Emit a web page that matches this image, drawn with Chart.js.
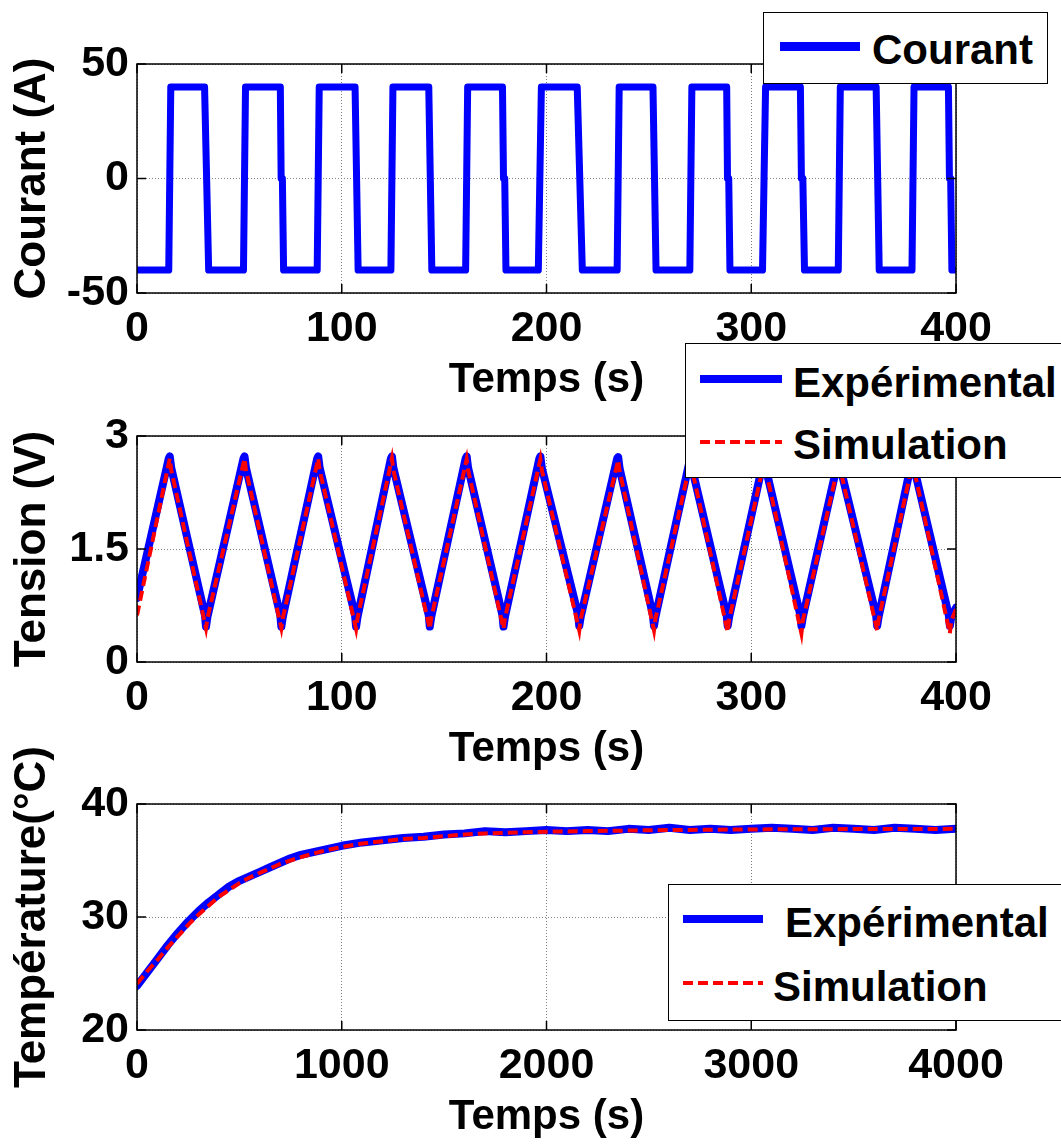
<!DOCTYPE html>
<html>
<head>
<meta charset="utf-8">
<script src="https://cdn.jsdelivr.net/npm/chart.js@4.4.1/dist/chart.umd.min.js"></script>
<style>
body { margin: 0; background: #fff; }
#wrap { position: relative; width: 1061px; height: 1144px; overflow: hidden; }
#wrap canvas { position: absolute; left: 0; }
.leg { position: absolute; background: #fff; border: 1.5px solid #000; box-sizing: border-box; }
.txt { position: absolute; font: bold 42px 'Liberation Sans', Arial, sans-serif; line-height: 42px; white-space: nowrap; color: #000; }
.solid { position: absolute; height: 8px; background: #0000ff; }
.dash { position: absolute; height: 4px; background: repeating-linear-gradient(90deg, #ff0000 0 10px, transparent 10px 15px); }
</style>
</head>
<body>
<div id="wrap">
  <canvas id="courant" width="1061" height="410" style="top:0"></canvas>
  <canvas id="tension" width="1061" height="450" style="top:330px"></canvas>
  <canvas id="temperature" width="1061" height="444" style="top:700px"></canvas>

  <!-- legends -->
  <div class="leg" style="left:763px;top:12px;width:285px;height:72px"></div>
  <div class="solid" style="left:780px;top:42px;width:80px;height:9px"></div>
  <div class="txt" style="left:872px;top:29px">Courant</div>

  <div class="leg" style="left:685px;top:343px;width:380px;height:135px"></div>
  <div class="solid" style="left:700px;top:375px;width:82px"></div>
  <div class="txt" style="left:793px;top:362px">Expérimental</div>
  <div class="dash" style="left:700px;top:440px;width:82px"></div>
  <div class="txt" style="left:793px;top:424px">Simulation</div>

  <div class="leg" style="left:668px;top:884px;width:397px;height:137px"></div>
  <div class="solid" style="left:683px;top:915px;width:80px"></div>
  <div class="txt" style="left:785px;top:902px">Expérimental</div>
  <div class="dash" style="left:683px;top:981px;width:80px"></div>
  <div class="txt" style="left:773px;top:966px">Simulation</div>
</div>

<script>
// courant (A) vs temps (s)
var currentTime = [0, 15.5, 16.5, 33, 35, 52, 53, 70, 70.4, 71, 71.6, 88, 89, 106.5, 108, 124, 125, 142.5, 144,
  160.5, 161.5, 178.5, 179, 179.6, 180.2, 196, 197.5, 215, 217.5, 234.5, 235.5, 252, 253.5, 270, 271, 288, 288.4,
  289, 289.6, 305.5, 307, 324, 324.5, 325.2, 326, 342.5, 343.5, 361, 362.5, 378.5, 379.5, 396.3, 396.8, 397.4, 398, 399];
var currentVal = [-40, -40, 40, 40, -40, -40, 40, 40, 0, 0, -40, -40, 40, 40, -40, -40, 40, 40, -40,
  -40, 40, 40, 0, 0, -40, -40, 40, 40, -40, -40, 40, 40, -40, -40, 40, 40, 0,
  0, -40, -40, 40, 40, 0, 0, -40, -40, 40, 40, -40, -40, 40, 40, 0, 0, -40, -40];

// tension (V) vs temps (s)
var voltTimeExp = [0, 15.5, 16, 16.7, 33.2, 33.7, 34.4, 52, 52.5, 53.2, 70, 70.5, 71.2, 88, 88.5, 89.2,
  106.5, 107, 107.7, 124, 124.5, 125.2, 142.5, 143, 143.7, 160.5, 161, 161.7, 178.5, 179, 179.7,
  196.5, 197, 197.7, 215.5, 216, 216.7, 234.5, 235, 235.7, 252, 252.5, 253.2, 270, 270.5, 271.2,
  288, 288.5, 289.2, 306, 306.5, 307.2, 324, 324.5, 325.2, 342.5, 343, 343.7, 361, 361.5, 362.2,
  378.5, 379, 379.7, 396.5, 397, 397.7, 400];
var voltExp = [0.85, 2.70, 2.73, 2.58, 0.62, 0.47, 0.60, 2.70, 2.73, 2.58, 0.62, 0.47, 0.60, 2.70, 2.73, 2.58,
  0.62, 0.47, 0.60, 2.70, 2.73, 2.58, 0.62, 0.47, 0.60, 2.70, 2.73, 2.58, 0.62, 0.47, 0.60,
  2.70, 2.73, 2.58, 0.62, 0.48, 0.60, 2.70, 2.72, 2.57, 0.62, 0.48, 0.60, 2.68, 2.71, 2.56,
  0.62, 0.48, 0.60, 2.68, 2.71, 2.56, 0.62, 0.48, 0.60, 2.68, 2.71, 2.56, 0.62, 0.48, 0.60,
  2.68, 2.71, 2.56, 0.62, 0.48, 0.60, 0.72];
var voltTimeSim = [0, 16, 16.7, 33.7, 34.4, 52.5, 53.2, 70.5, 71.2, 88.5, 89.2, 107, 107.7, 124.5, 125.2,
  143, 143.7, 161, 161.7, 179, 179.7, 197, 197.7, 216, 216.7, 235, 235.7, 252.5, 253.2, 270.5, 271.2,
  288.5, 289.2, 306.5, 307.2, 324.5, 325.2, 343, 343.7, 361.5, 362.2, 379, 379.7, 397, 397.7, 400];
var voltSim = [0.62, 2.70, 2.55, 0.45, 0.58, 2.70, 2.55, 0.45, 0.58, 2.70, 2.55, 0.44, 0.58, 2.70, 2.55,
  0.44, 0.58, 2.69, 2.55, 0.44, 0.58, 2.69, 2.55, 0.42, 0.57, 2.68, 2.54, 0.42, 0.57, 2.68, 2.54,
  0.40, 0.56, 2.68, 2.54, 0.38, 0.55, 2.67, 2.53, 0.42, 0.56, 2.67, 2.53, 0.38, 0.55, 0.70];

// température (°C) vs temps (s)
var tempTimeExp = [0, 50, 100, 150, 200, 250, 300, 350, 400, 450, 500, 550, 600, 650, 700, 750, 800, 850, 900, 950,
  1000, 1100, 1200, 1300, 1400, 1500, 1600, 1700, 1800, 1900, 2000, 2100, 2200, 2300, 2400, 2500, 2600, 2700,
  2800, 2900, 3000, 3100, 3200, 3300, 3400, 3500, 3600, 3700, 3800, 3900, 4000];
var tempExp = [23.9, 25.1, 26.3, 27.5, 28.6, 29.6, 30.5, 31.3, 32.0, 32.7, 33.2, 33.6, 34.0, 34.4, 34.8, 35.2, 35.5, 35.7, 35.9, 36.1,
  36.3, 36.6, 36.8, 37.0, 37.1, 37.3, 37.4, 37.6, 37.5, 37.6, 37.7, 37.6, 37.7, 37.6, 37.8, 37.7, 37.9, 37.7,
  37.8, 37.7, 37.8, 37.9, 37.8, 37.7, 37.9, 37.8, 37.7, 37.9, 37.8, 37.7, 37.8];
var tempTimeSim = [0, 50, 100, 150, 200, 250, 300, 350, 400, 450, 500, 550, 600, 700, 800, 900, 1000, 1100, 1200,
  1300, 1400, 1500, 1600, 1700, 1800, 1900, 2000, 2200, 2400, 2600, 2800, 3000, 3500, 4000];
var tempSim = [24.1, 25.2, 26.2, 27.3, 28.3, 29.3, 30.2, 31.0, 31.8, 32.4, 33.0, 33.5, 33.9, 34.7, 35.3, 35.8, 36.2, 36.5, 36.7,
  36.9, 37.0, 37.15, 37.3, 37.4, 37.45, 37.5, 37.55, 37.6, 37.65, 37.7, 37.72, 37.75, 37.78, 37.8];

Chart.defaults.font.family = "'Liberation Sans', Arial, sans-serif";
Chart.defaults.font.weight = 'bold';
Chart.defaults.color = '#000';

function pts(xs, ys) {
  return xs.map(function(x, i) { return {x: x, y: ys[i]}; });
}

// matlab like box with inward ticks
var boxPlugin = {
  id: 'box',
  afterDraw: function(chart) {
    var a = chart.chartArea, ctx = chart.ctx;
    var sx = chart.scales.x, sy = chart.scales.y;
    ctx.save();
    ctx.strokeStyle = '#000';
    ctx.lineWidth = 1.5;
    ctx.beginPath();
    sx.ticks.forEach(function(t) {
      var px = sx.getPixelForValue(t.value);
      ctx.moveTo(px, a.bottom); ctx.lineTo(px, a.bottom - 9);
      ctx.moveTo(px, a.top); ctx.lineTo(px, a.top + 9);
    });
    sy.ticks.forEach(function(t) {
      var py = sy.getPixelForValue(t.value);
      ctx.moveTo(a.left, py); ctx.lineTo(a.left + 9, py);
      ctx.moveTo(a.right, py); ctx.lineTo(a.right - 9, py);
    });
    ctx.stroke();
    ctx.strokeRect(a.left, a.top, a.right - a.left, a.bottom - a.top);
    ctx.restore();
  }
};

function plain(v) { return String(v); }

function makeChart(id, datasets, xr, yr, ytitle, padTop, xHeight, titlePad) {
  return new Chart(document.getElementById(id), {
    type: 'line',
    data: { datasets: datasets },
    plugins: [boxPlugin],
    options: {
      responsive: false,
      animation: false,
      layout: { padding: { top: padTop, right: 105, left: 0, bottom: 0 } },
      plugins: { legend: { display: false }, tooltip: { enabled: false } },
      elements: { point: { radius: 0 } },
      scales: {
        x: {
          type: 'linear', min: xr[0], max: xr[1],
          ticks: { stepSize: xr[2], padding: 10, font: { size: 43 }, maxRotation: 0, callback: plain },
          grid: { color: '#7f7f7f', lineWidth: 1, drawTicks: false },
          border: { display: false, dash: [1, 2] },
          title: { display: true, text: 'Temps (s)', font: { size: 42 }, padding: { top: 0, bottom: titlePad } },
          afterFit: function(s) { s.height = xHeight; }
        },
        y: {
          min: yr[0], max: yr[1],
          ticks: { stepSize: yr[2], padding: 8, font: { size: 43 }, callback: plain },
          grid: { color: '#7f7f7f', lineWidth: 1, drawTicks: false },
          border: { display: false, dash: [1, 2] },
          title: { display: true, text: ytitle, font: { size: 44 }, padding: { top: 6, bottom: 0 } },
          afterFit: function(s) { s.width = 137; }
        }
      }
    }
  });
}

makeChart('courant', [{
  label: 'Courant',
  data: pts(currentTime, currentVal),
  borderColor: '#0000ff', borderWidth: 7,
  borderJoinStyle: 'round', borderCapStyle: 'round'
}], [0, 400, 100], [-50, 50, 50], 'Courant (A)', 64, 117, 4);

makeChart('tension', [{
  label: 'Simulation',
  data: pts(voltTimeSim, voltSim),
  borderColor: '#ff0000', borderWidth: 4, borderDash: [10, 5], order: 0
}, {
  label: 'Expérimental',
  data: pts(voltTimeExp, voltExp),
  borderColor: '#0000ff', borderWidth: 8,
  borderJoinStyle: 'round', borderCapStyle: 'round', order: 1
}], [0, 400, 100], [0, 3, 1.5], 'Tension (V)', 106, 118, 5);

makeChart('temperature', [{
  label: 'Simulation',
  data: pts(tempTimeSim, tempSim),
  borderColor: '#ff0000', borderWidth: 4, borderDash: [10, 5], order: 0
}, {
  label: 'Expérimental',
  data: pts(tempTimeExp, tempExp),
  borderColor: '#0000ff', borderWidth: 8,
  borderJoinStyle: 'round', borderCapStyle: 'round', order: 1
}], [0, 4000, 1000], [20, 40, 10], 'Température(°C)', 104, 114, 1);
</script>
</body>
</html>
